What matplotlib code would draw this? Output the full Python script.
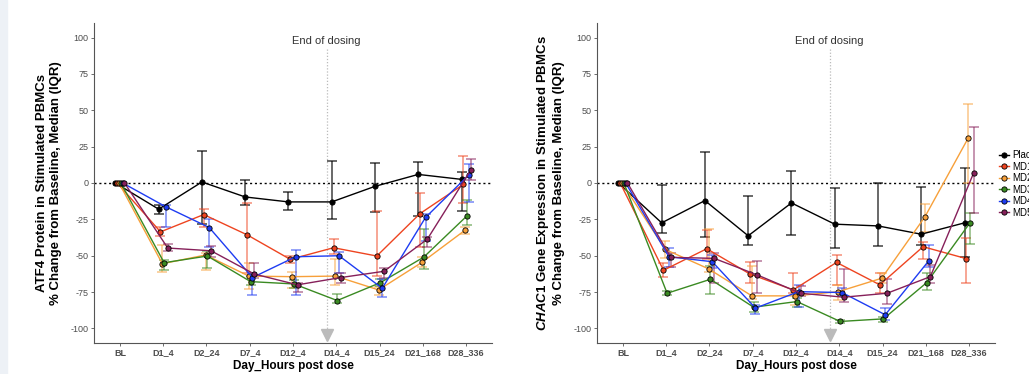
import numpy as np
import matplotlib
matplotlib.use("Agg")
import matplotlib.pyplot as plt
from matplotlib.patches import Rectangle

plt.rcParams['font.family'] = ['Liberation Sans', 'DejaVu Sans']
plt.rcParams['mathtext.fontset'] = 'custom'
plt.rcParams['mathtext.it'] = 'Liberation Sans:italic:bold'
plt.rcParams['mathtext.rm'] = 'Liberation Sans:bold'

categories = ["BL", "D1_4", "D2_24", "D7_4", "D12_4", "D14_4", "D15_24", "D21_168", "D28_336"]
groups = ["Placebo", "MD1", "MD2", "MD3", "MD4", "MD5"]
colors = ["#000000", "#EE4420", "#F7A03A", "#3A8A22", "#1E3CF2", "#86205A"]
yticks = [-100, -75, -50, -25, 0, 25, 50, 75, 100]
end_of_dosing_x = 5.78  # category position (BL = 1)

nan = np.nan
# ATF4 protein: median, lower (Q1), upper (Q3)
atf4_med = {
    "Placebo": [0, -18, 0.7, -9.6, -13, -13, -2.3, 5.9, 2.5],
    "MD1": [0, -33.6, -21.7, -35.6, -52.5, -44.5, -50.2, -21, -1],
    "MD2": [0, -55.5, -49.5, -64, -64.4, -64, -73.5, -54.6, -32.4],
    "MD3": [0, -54.8, -50.2, -67.8, -69.4, -80.8, -68.5, -51, -22.6],
    "MD4": [0, -16.4, -30.6, -65, -50.7, -50, -72.4, -23.7, 5.5],
    "MD5": [0, -44.7, -46.6, -62.6, -70, -65, -60.7, -38.6, 8.7],
}
atf4_lo = {
    "Placebo": [0, -21.5, -28, -14.8, -18.7, -24.9, -20, -22.6, -19],
    "MD1": [0, -36.5, -30, -62, -55, -48.9, -64, -44, -14],
    "MD2": [0, -61, -60, -73, -72, -70, -77, -57.5, -35],
    "MD3": [0, -60, -58.7, -70, -72, -82.6, -71, -59.4, -29],
    "MD4": [0, -30, -44, -77, -77, -62, -78.5, -40, -13],
    "MD5": [0, -47, -50.7, -65.5, -74.6, -68.5, -65.5, -44.3, 1.8],
}
atf4_hi = {
    "Placebo": [0, -15, 21.7, 2.3, -6.4, 15.3, 13.9, 14.4, 7.5],
    "MD1": [0, -30, -17.8, -13.7, -50, -38.8, -19.2, -6.8, 18.3],
    "MD2": [0, -42.7, -48, -55, -61, -52, -71.7, -50.7, -30],
    "MD3": [0, -53, -47, -64, -66.7, -76.5, -66, -31.5, -11.4],
    "MD4": [0, -15, -25, -62, -46, -47.7, -66, -21, 13.2],
    "MD5": [0, -42, -43.4, -55, -68.5, -61.6, -58.7, -37, 16.4],
}

# CHAC1 gene expression: median, lower (Q1), upper (Q3)
chac1_med = {
    "Placebo": [0, -27.4, -12.1, -36.3, -13.7, -28.3, -29.5, -35.2, -27.4],
    "MD1": [0, -60, -45.2, -62.6, -73.5, -54.6, -70, -43.8, -52],
    "MD2": [0, -45.7, -59, -77.6, -77.6, -74.7, -65.5, -23.3, 30.8],
    "MD3": [0, -75.8, -66.2, -85.4, -81.5, -95.2, -93.4, -68.5, -27.4],
    "MD4": [0, -50.7, -54.1, -86, -74.7, -75.3, -90.6, -53.7, nan],
    "MD5": [0, -51.1, -51.8, -63.2, -75.8, -78.5, -75.8, -64.4, 6.8],
}
chac1_lo = {
    "Placebo": [0, -34.2, -37, -42.7, -36, -45, -43.4, -42.7, -50.7],
    "MD1": [0, -64.4, -52, -68.5, -75.8, -70, -75.3, -52.5, -68.5],
    "MD2": [0, -51.8, -61, -80, -84, -80.4, -69, -33.6, 0],
    "MD3": [0, -77, -76.3, -88.4, -85, -96.3, -95.5, -73.5, -42.2],
    "MD4": [0, -57.5, -58.7, -90, -85, -78, -94.5, -57.5, nan],
    "MD5": [0, -57.5, -69, -75.8, -78, -81.5, -83, -68.5, -20.3],
}
chac1_hi = {
    "Placebo": [0, -1.1, 21.2, -8.9, 8.2, -3.7, -0.2, -2.7, 10.5],
    "MD1": [0, -55, -32, -54, -62, -49.5, -62, -40.4, -38],
    "MD2": [0, -39.7, -31.5, -57, -76, -70, -61.6, -14.6, 54.3],
    "MD3": [0, -74.2, -57, -82, -79, -94, -92, -62, -20.5],
    "MD4": [0, -45, -49.5, -83.8, -70, -72, -86, -42.7, nan],
    "MD5": [0, -48.4, -48, -53.7, -71, -59.4, -66, -56.4, 38.8],
}

W, H = 1029, 374
fig = plt.figure(figsize=(W / 100, H / 100), dpi=100)
fig.patches.append(Rectangle((0, 0), 7 / W, 1, transform=fig.transFigure,
                             color="#EDF1F6", zorder=0))

ax1 = fig.add_axes([94 / W, 1 - 343 / H, 398 / W, 320 / H])
ax2 = fig.add_axes([597 / W, 1 - 343 / H, 398 / W, 320 / H])

x = np.arange(1, len(categories) + 1)
offsets = (np.arange(len(groups)) - 2.5) * 0.042


def draw(ax, med, lo, hi, ylabel_line1):
    ax.axhline(0, color="black", lw=1.0, ls=(0, (1.5, 2.0)), zorder=1)
    ax.plot([end_of_dosing_x, end_of_dosing_x], [92, -103], color="#BBBBBB",
            lw=0.9, ls=(0, (1, 1.5)), zorder=1)
    ax.plot([end_of_dosing_x], [-104.5], marker="v", color="#BBBBBB",
            markersize=8, zorder=1, clip_on=False)
    ax.text(end_of_dosing_x, 97.5, "End of dosing", ha="center", va="center",
            fontsize=8, color="#333333")
    for i, g in enumerate(groups):
        xs = x + offsets[i]
        m = np.array(med[g], dtype=float)
        l = np.array(lo[g], dtype=float)
        h = np.array(hi[g], dtype=float)
        c = colors[i]
        alpha_e = 0.75 if g == "Placebo" else 0.6
        ax.errorbar(xs[1:], m[1:], yerr=[m[1:] - l[1:], h[1:] - m[1:]], fmt="none",
                    ecolor=c, alpha=alpha_e, elinewidth=1.1, capsize=3.5,
                    capthick=1.1, zorder=2)
        ax.plot(xs, m, color=c, lw=1.0, zorder=3, label=g, marker="o",
                markersize=3.8, markerfacecolor=c, markeredgecolor="black",
                markeredgewidth=0.6)
    ax.set_xlim(0.4, 9.6)
    ax.set_ylim(-110, 110)
    ax.set_xticks(x)
    ax.set_xticklabels(categories, fontsize=6.5, fontweight="bold", color="#4D4D4D")
    ax.set_yticks(yticks)
    ax.set_yticklabels([str(v) for v in yticks], fontsize=6.5, color="#4D4D4D")
    ax.tick_params(length=2.5, width=0.6, color="#555555", pad=1.5)
    for s in ["top", "right"]:
        ax.spines[s].set_visible(False)
    for s in ["left", "bottom"]:
        ax.spines[s].set_color("#555555")
        ax.spines[s].set_linewidth(0.8)
    ax.set_xlabel("Day_Hours post dose", fontsize=8.5, fontweight="bold", labelpad=2)
    ax.set_ylabel(ylabel_line1 + "\n% Change from Baseline, Median (IQR)",
                  fontsize=9.5, fontweight="bold", linespacing=1.25, labelpad=6)


draw(ax1, atf4_med, atf4_lo, atf4_hi, "ATF4 Protein in Stimulated PBMCs")
draw(ax2, chac1_med, chac1_lo, chac1_hi,
     r"$\mathit{CHAC1}$ Gene Expression in Stimulated PBMCs")

handles, labels = ax2.get_legend_handles_labels()
fig.legend(handles, labels, loc="center left", bbox_to_anchor=(995 / W, 1 - 184 / H),
           frameon=False, fontsize=7, handlelength=1.0, handletextpad=0.4,
           labelspacing=0.15, borderaxespad=0)

fig.savefig("out.png", dpi=100)
